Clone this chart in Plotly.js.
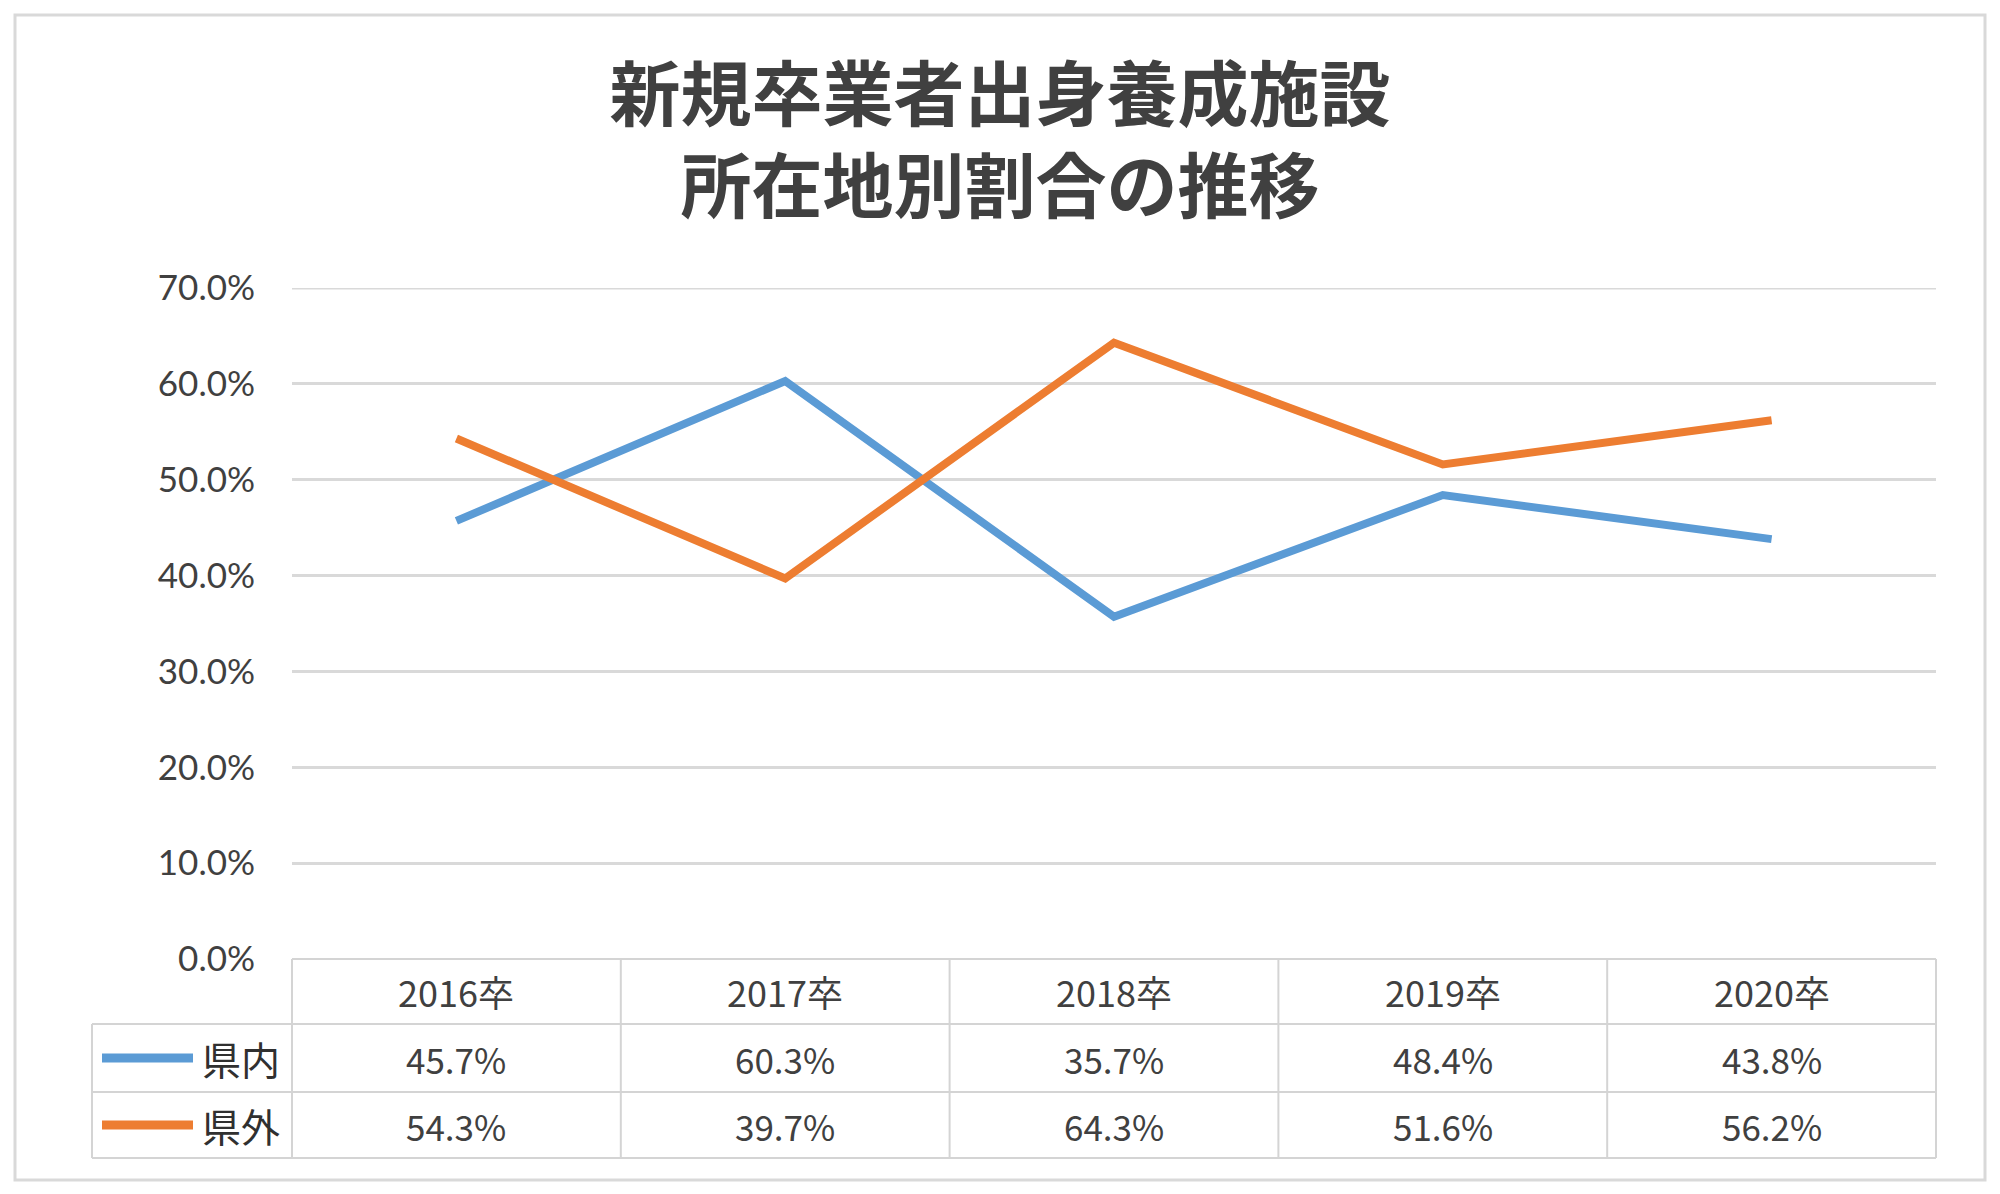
<!DOCTYPE html>
<html>
<head>
<meta charset="utf-8">
<script src="https://cdn.plot.ly/plotly-3.0.1.min.js"></script>
<style>html,body{margin:0;padding:0;background:#fff;}#chart{width:2000px;height:1194px;}</style>
</head>
<body>
<div id="chart"></div>
<script>
const categories = ['2016卒', '2017卒', '2018卒', '2019卒', '2020卒'];
const seriesNames = ['県内', '県外'];
const kennai = [45.7, 60.3, 35.7, 48.4, 43.8];
const kengai = [54.3, 39.7, 64.3, 51.6, 56.2];
const yTicks = [0, 10, 20, 30, 40, 50, 60, 70];

const colors = ['#5B9BD5', '#ED7D31'];
const seriesValues = [kennai, kengai];

const W = 2000, H = 1194;
const L = 292, R = 1936, T = 288, B = 959;
const pw = R - L, ph = B - T;
const px = p => (p - L) / pw;
const py = p => (B - p) / ph;

const textColor = '#404040';
const lineColor = '#d4d4d4';
const tableFont = '"Noto Sans CJK JP", "Noto Sans", sans-serif';

const traces = seriesValues.map((vals, i) => ({
  type: 'scatter', mode: 'lines', x: categories, y: vals, name: seriesNames[i],
  line: {color: colors[i], width: 8}, hoverinfo: 'skip', cliponaxis: false
}));

const rowTop = [B, 1024, 1092];
const rowBot = [1024, 1092, 1158];
const legendLeft = 92;

const shapes = [];
const annotations = [];
// outer frame
shapes.push({type: 'rect', xref: 'paper', yref: 'paper', x0: px(15), x1: px(1985), y0: py(1180), y1: py(15),
  line: {color: '#d9d9d9', width: 3}, layer: 'below'});
// top gridline (70%)
shapes.push({type: 'line', xref: 'paper', yref: 'y', x0: 0, x1: 1, y0: yTicks[yTicks.length - 1], y1: yTicks[yTicks.length - 1],
  line: {color: '#d9d9d9', width: 3}, layer: 'below'});
// horizontal table lines
shapes.push({type: 'line', xref: 'paper', yref: 'paper', x0: 0, x1: 1, y0: py(B), y1: py(B), line: {color: lineColor, width: 2}});
[1024, 1092, 1158].forEach(yy => shapes.push({type: 'line', xref: 'paper', yref: 'paper',
  x0: px(legendLeft), x1: 1, y0: py(yy), y1: py(yy), line: {color: lineColor, width: 2}}));
// vertical table lines
for (let k = 0; k <= categories.length; k++) {
  shapes.push({type: 'line', xref: 'paper', yref: 'paper', x0: k / categories.length, x1: k / categories.length,
    y0: py(B), y1: py(1158), line: {color: lineColor, width: 2}});
}
shapes.push({type: 'line', xref: 'paper', yref: 'paper', x0: px(legendLeft), x1: px(legendLeft),
  y0: py(1024), y1: py(1158), line: {color: lineColor, width: 2}});

// header labels
categories.forEach((c, i) => annotations.push({xref: 'x', yref: 'paper', x: c, y: py((rowTop[0] + rowBot[0]) / 2),
  text: c, showarrow: false, xanchor: 'center', yanchor: 'middle', font: {family: tableFont, size: 36, color: textColor}}));
// values + legend keys
seriesValues.forEach((vals, s) => {
  const yc = py((rowTop[s + 1] + rowBot[s + 1]) / 2);
  vals.forEach((v, i) => annotations.push({xref: 'x', yref: 'paper', x: categories[i], y: yc,
    text: v.toFixed(1) + '%', showarrow: false, xanchor: 'center', yanchor: 'middle',
    font: {family: tableFont, size: 35, color: textColor}}));
  shapes.push({type: 'line', xref: 'paper', yref: 'paper', x0: px(102), x1: px(193), y0: yc, y1: yc,
    line: {color: colors[s], width: 9}});
  annotations.push({xref: 'paper', yref: 'paper', x: px(200), y: yc, text: seriesNames[s], showarrow: false,
    xanchor: 'left', yanchor: 'middle', font: {family: tableFont, size: 39, color: '#303030'}});
});

const layout = {
  width: W, height: H,
  margin: {l: L, r: W - R, t: T, b: H - B, pad: 0},
  paper_bgcolor: '#fff', plot_bgcolor: '#fff',
  showlegend: false,
  title: {
    text: '新規卒業者出身養成施設<br>所在地別割合の推移',
    font: {family: '"Noto Sans CJK JP", sans-serif', size: 71, color: textColor, weight: 'bold'},
    xref: 'container', x: 0.5, xanchor: 'center',
    yref: 'container', y: 1 - 120 / H, yanchor: 'top'
  },
  xaxis: {
    type: 'category', range: [-0.5, categories.length - 0.5], showticklabels: false,
    showgrid: false, zeroline: false, showline: false, ticks: ''
  },
  yaxis: {
    range: [0, 70], tickvals: yTicks, ticktext: yTicks.map(v => v.toFixed(1) + '%'),
    showgrid: true, gridcolor: '#d9d9d9', gridwidth: 3, zeroline: false, showline: false, ticks: '',
    ticklabelstandoff: 36,
    tickfont: {family: 'Lato, sans-serif', size: 35, color: textColor}
  },
  shapes: shapes,
  annotations: annotations
};

Plotly.newPlot('chart', traces, layout, {displayModeBar: false, staticPlot: true});
</script>
</body>
</html>
